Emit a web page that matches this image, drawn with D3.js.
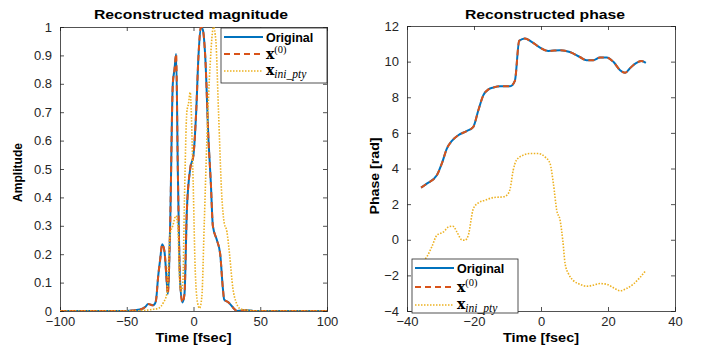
<!DOCTYPE html>
<html>
<head>
<meta charset="utf-8">
<script src="https://cdnjs.cloudflare.com/ajax/libs/d3/7.8.5/d3.min.js"></script>
<style>
  body { margin: 0; background: #fff; }
  svg { display: block; font-family: "Liberation Sans", Arial, sans-serif; }
  .tick text { font-size: 13px; fill: #262626; }
  .title { font-size: 13px; font-weight: bold; fill: #000; }
  .alabel { font-size: 13px; font-weight: bold; fill: #000; }
  .leg { font-size: 12px; }
</style>
</head>
<body>
<svg width="709" height="345"></svg>
<script>
// colours (matlab default order)
var blue = "#0072BD", orange = "#D95319", yellow = "#EDB120";

// ---- magnitude panel data ----
var magTime = [-100,-50,-45,-40,-36,-34,-32,-30.5,-29,-28,-26.5,-25,-23.5,-21.75,-20,-19.25,-17.5,-15.5,-14.25,-13,-11.75,-10,-8.25,-6.75,-5,-2.5,0,2,3.75,5.5,7,8.75,11.25,13,14.5,17.5,20,22,23,26.25,30,32.5,40,45,100];
var magOriginal = [0,0,0.002,0.005,0.015,0.025,0.022,0.02,0.025,0.04,0.12,0.18,0.235,0.21,0.1,0.06,0.3,0.8,0.85,0.905,0.5,0.1,0.03,0.06,0.35,0.5,0.55,0.7,0.9,1.0,0.99,0.9,0.6,0.45,0.3,0.25,0.2,0.08,0.04,0.03,0.01,0.0,0.003,0,0];
var magX0 = [0,0,0.002,0.005,0.015,0.025,0.022,0.02,0.025,0.04,0.12,0.18,0.235,0.21,0.1,0.06,0.3,0.8,0.85,0.905,0.5,0.1,0.03,0.06,0.35,0.5,0.55,0.7,0.9,1.0,0.99,0.9,0.6,0.45,0.3,0.25,0.2,0.08,0.04,0.03,0.01,0.0,0.003,0,0];
var iniTime = [-100,-45,-35,-30,-26,-22.5,-20,-17.5,-15.5,-13.25,-11.75,-10.5,-9.25,-8,-6.75,-5,-3.75,-2.5,-0.5,1.25,3,4.5,6.25,8,10,12.5,15,16.75,18.75,21.25,23,25,27,29.5,32,35,40,50,100];
var magIni = [0,0,0.003,0.006,0.01,0.03,0.06,0.27,0.3,0.335,0.3,0.12,0.07,0.1,0.4,0.7,0.73,0.77,0.5,0.15,0.03,0.01,0.05,0.3,0.6,0.87,1.0,0.95,0.7,0.4,0.31,0.28,0.2,0.08,0.03,0.008,0.003,0,0];
var magXTicks = [-100,-50,0,50,100];
var magYTicks = [0,0.1,0.2,0.3,0.4,0.5,0.6,0.7,0.8,0.9,1];

// ---- phase panel data ----
var phTime = [-35.8,-34.1,-31.1,-29.6,-28.1,-26.6,-24.7,-22.2,-20.2,-18.7,-17.2,-15.7,-14.2,-12.2,-9.2,-7.8,-6.5,-4.8,-2.8,-0.3,2.2,5.7,8.6,11.6,13.6,15.6,17.6,19.6,21.6,23.6,25.1,26.5,28.5,30,31.3];
var phOriginal = [2.93,3.15,3.62,4.28,5.12,5.55,5.87,6.1,6.34,7.27,8.12,8.44,8.55,8.62,8.62,8.92,11.17,11.3,11.11,10.79,10.6,10.64,10.54,10.26,10.08,10.08,10.23,10.23,9.99,9.52,9.37,9.62,9.93,10.03,9.93];
var phX0 = [2.93,3.15,3.62,4.28,5.12,5.55,5.87,6.1,6.34,7.27,8.12,8.44,8.55,8.62,8.62,8.92,11.17,11.3,11.11,10.79,10.6,10.64,10.54,10.26,10.08,10.08,10.23,10.23,9.99,9.52,9.37,9.62,9.93,10.03,9.93];
var phIniTime = [-35.8,-34.1,-32.6,-31.1,-29.1,-27.6,-26.3,-25.1,-23.7,-22.7,-21.7,-20.2,-18.7,-16.7,-14.2,-11.2,-10.2,-9.2,-8.3,-7.3,-5.3,-3.3,-0.8,1.2,2.7,3.7,4.7,5.7,6.5,7.2,8.2,9.6,11.6,13.6,15.6,17.6,19.6,21.6,23.6,25.5,27.5,29.5,31.3];
var phIni = [-1.3,-0.96,-0.4,0.25,0.44,0.72,0.76,0.44,0,-0.03,0.25,1.75,2.07,2.22,2.37,2.41,2.5,2.87,3.9,4.47,4.75,4.84,4.84,4.65,4.28,3.15,1.65,1.09,-0.03,-1.35,-1.91,-2.28,-2.5,-2.61,-2.55,-2.46,-2.5,-2.69,-2.87,-2.74,-2.5,-2.13,-1.72];
var phXTicks = [-40,-20,0,20,40];
var phYTicks = [-4,-2,0,2,4,6,8,10,12];

var svg = d3.select("svg");

function zip(xs, ys) { return xs.map(function(x, i) { return [x, ys[i]]; }); }

function drawPanel(o) {
  var x = d3.scaleLinear().domain(o.xdom).range([o.left, o.right]);
  var y = d3.scaleLinear().domain(o.ydom).range([o.bottom, o.top]);
  var g = svg.append("g");

  g.append("clipPath").attr("id", o.id + "clip")
    .append("rect").attr("x", o.left).attr("y", o.top)
    .attr("width", o.right - o.left).attr("height", o.bottom - o.top);

  // axes (ticks point inward, mirrored on top/right)
  g.append("g").attr("transform", "translate(0," + o.bottom + ")")
    .call(d3.axisBottom(x).tickValues(o.xticks).tickSize(-4).tickPadding(6).tickFormat(d3.format("d")));
  g.append("g").attr("transform", "translate(0," + o.top + ")")
    .call(d3.axisTop(x).tickValues(o.xticks).tickSize(-4).tickFormat(""));
  g.append("g").attr("transform", "translate(" + o.left + ",0)")
    .call(d3.axisLeft(y).tickValues(o.yticks).tickSize(-4).tickPadding(8).tickFormat(o.yfmt));
  g.append("g").attr("transform", "translate(" + o.right + ",0)")
    .call(d3.axisRight(y).tickValues(o.yticks).tickSize(-4).tickFormat(""));
  g.selectAll(".domain").attr("stroke", "#262626").attr("stroke-width", 0.8);
  g.selectAll(".tick line").attr("stroke", "#262626").attr("stroke-width", 0.8);
  g.selectAll(".tick text").attr("font-family", null).attr("font-size", null);

  var line = d3.line().x(function(d) { return x(d[0]); }).y(function(d) { return y(d[1]); })
    .curve(d3.curveMonotoneX);
  var lines = g.append("g").attr("clip-path", "url(#" + o.id + "clip)");
  lines.append("path").datum(zip(o.t, o.orig)).attr("d", line)
    .attr("fill", "none").attr("stroke", blue).attr("stroke-width", 2);
  lines.append("path").datum(zip(o.t, o.x0)).attr("d", line)
    .attr("fill", "none").attr("stroke", orange).attr("stroke-width", 2).attr("stroke-dasharray", "6,4");
  lines.append("path").datum(zip(o.tIni, o.ini)).attr("d", line)
    .attr("fill", "none").attr("stroke", yellow).attr("stroke-width", 1.6).attr("stroke-dasharray", "1.5,1.5");

  // titles and labels (stretched to the widths seen in the picture)
  g.append("text").attr("class", "title").attr("x", o.titlex).attr("y", 19)
    .attr("text-anchor", "middle").attr("textLength", o.titlew).attr("lengthAdjust", "spacingAndGlyphs")
    .text(o.title);
  g.append("text").attr("class", "alabel").attr("x", (o.left + o.right) / 2).attr("y", 341.5)
    .attr("text-anchor", "middle").attr("textLength", 76).attr("lengthAdjust", "spacingAndGlyphs")
    .text("Time [fsec]");
  g.append("text").attr("class", "alabel")
    .attr("transform", "translate(" + o.ylabx + "," + o.ylaby + ") rotate(-90)")
    .attr("text-anchor", "middle").attr("textLength", o.ylabw).attr("lengthAdjust", "spacingAndGlyphs")
    .text(o.ylabel);

  // legend
  var L = o.legend;
  var lg = g.append("g").attr("class", "leg");
  lg.append("rect").attr("x", L.x).attr("y", L.y).attr("width", L.w).attr("height", L.h)
    .attr("fill", "#fff").attr("stroke", "#262626").attr("stroke-width", 0.8);
  var rows = [
    { c: blue, dash: null, w: 2 },
    { c: orange, dash: "6,4", w: 2 },
    { c: yellow, dash: "1.5,1.5", w: 1.6 }
  ];
  rows.forEach(function(r, i) {
    var yy = L.y + L.rowY[i];
    lg.append("line").attr("x1", L.x + 3).attr("x2", L.x + 42).attr("y1", yy).attr("y2", yy)
      .attr("stroke", r.c).attr("stroke-width", r.w).attr("stroke-dasharray", r.dash);
  });
  var tx = L.x + 45;
  lg.append("text").attr("x", tx).attr("y", L.y + L.rowY[0] + 4.5)
    .attr("font-weight", "bold").attr("font-size", 12.5).text("Original");
  var t2 = lg.append("text").attr("x", tx).attr("y", L.y + L.rowY[1] + 4.5)
    .attr("font-family", "'DejaVu Serif', 'Liberation Serif', serif");
  t2.append("tspan").attr("font-weight", "bold").attr("font-size", 14).text("x");
  t2.append("tspan").attr("font-size", 10.5).attr("dy", -6).attr("font-family", "'Liberation Serif', serif").text("(0)");
  var t3 = lg.append("text").attr("x", tx).attr("y", L.y + L.rowY[2] + 3.5)
    .attr("font-family", "'DejaVu Serif', 'Liberation Serif', serif");
  t3.append("tspan").attr("font-weight", "bold").attr("font-size", 14).text("x");
  t3.append("tspan").attr("font-size", 11.5).attr("dy", 3.5).attr("font-style", "italic")
    .attr("font-family", "'Liberation Serif', serif").text("ini_pty");
}

drawPanel({
  id: "mag", left: 60, right: 327, top: 27, bottom: 311,
  xdom: [-100, 100], ydom: [0, 1], xticks: magXTicks, yticks: magYTicks,
  yfmt: function(d) { return d3.format("~g")(d); },
  t: magTime, orig: magOriginal, x0: magX0, tIni: iniTime, ini: magIni,
  title: "Reconstructed magnitude", titlex: 191, titlew: 194,
  ylabel: "Amplitude", ylabx: 22, ylaby: 172.5, ylabw: 59,
  legend: { x: 221, y: 28, w: 106, h: 55, rowY: [9, 26, 43] }
});

drawPanel({
  id: "ph", left: 407, right: 675, top: 26, bottom: 311,
  xdom: [-40, 40], ydom: [-4, 12], xticks: phXTicks, yticks: phYTicks,
  yfmt: d3.format("d"),
  t: phTime, orig: phOriginal, x0: phX0, tIni: phIniTime, ini: phIni,
  title: "Reconstructed phase", titlex: 545, titlew: 160,
  ylabel: "Phase [rad]", ylabx: 379, ylaby: 176, ylabw: 77,
  legend: { x: 412, y: 259, w: 106, h: 54, rowY: [9, 28, 46] }
});
</script>
</body>
</html>
